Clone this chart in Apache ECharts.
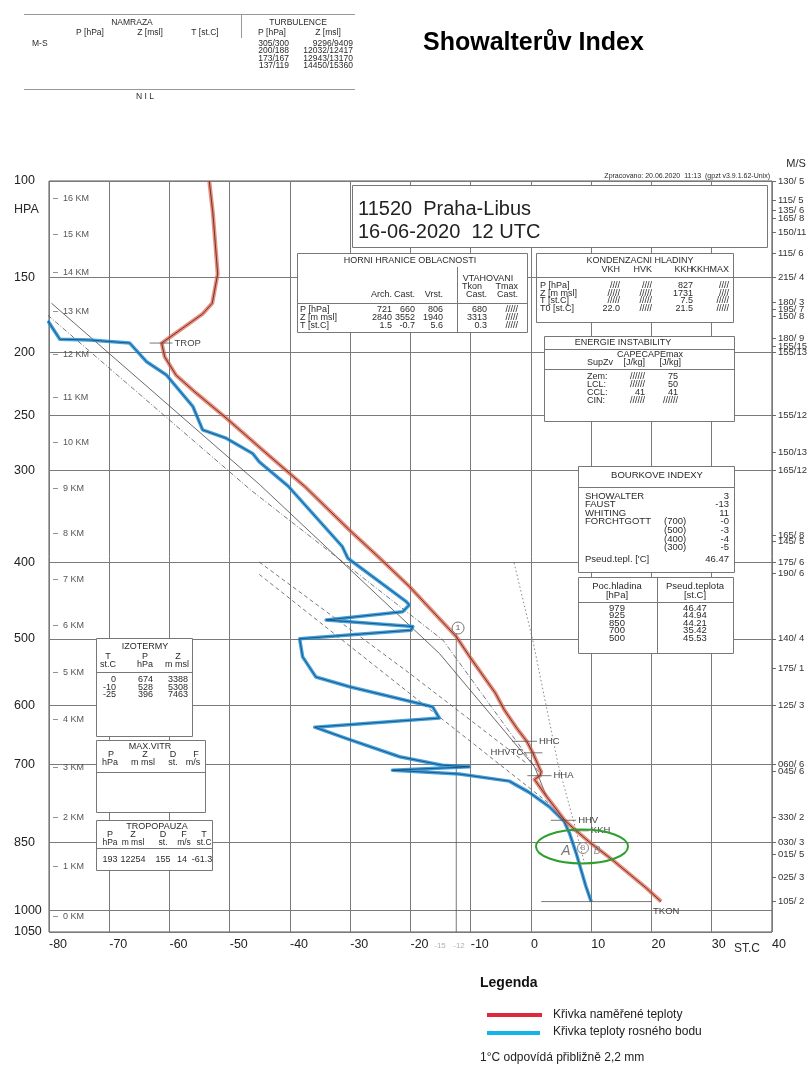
<!DOCTYPE html>
<html><head><meta charset="utf-8">
<script src="https://cdn.jsdelivr.net/npm/echarts@6/dist/echarts.min.js"></script>
<style>html,body{margin:0;padding:0;background:#fff}#c{width:810px;height:1066px}</style>
</head><body><div id="c"></div>
<script>
// ---------- DATA ----------
const KAPPA = 0.2857; // Stuve diagram: vertical coordinate is p^(R/cp)
const pressureTicks = [100,150,200,250,300,400,500,600,700,850,1000,1050];
const kmLabels   = ['0 KM','1 KM','2 KM','3 KM','4 KM','5 KM','6 KM','7 KM','8 KM','9 KM','10 KM','11 KM','12 KM','13 KM','14 KM','15 KM','16 KM'];
const kmPressure = [1013,901,800,707,623,549,481,421,367,318,274,235,201,171.5,147,126,108];
const windLabels   = ['130/ 5','115/ 5','135/ 6','165/ 8','150/11','115/ 6','215/ 4','180/ 3','195/ 7','150/ 8','180/ 9','155/15','155/13','155/12','150/13','165/12','165/ 8','145/ 5','175/ 6','190/ 6','140/ 4','175/ 1','125/ 3','060/ 6','045/ 6','330/ 2','030/ 3','015/ 5','025/ 3','105/ 2'];
const windPressure = [100,109,113.5,117.7,125,136.3,150,165.7,169.9,174.6,189.6,195.1,200,250,282.9,300,368.3,375.4,400,413.2,500,543.2,600,700,712.7,800.6,850,875,925,979];

// measured temperature (pressure hPa, T st.C)
const tempP = [100,115,148,166,173,193,203,217,231,252,281,303,316,363,396,430,497,528,581,608,640,660,674,680,707,714,721,728,760,806,827,850,887,948,979];
const tempT = [-53.4,-52.8,-52.0,-52.9,-54.5,-61.3,-60.8,-58.9,-55.6,-50.6,-44.5,-40.1,-37.6,-30.1,-25.0,-20.2,-12.4,-10.0,-5.9,-4.4,-2.2,-0.7,0.0,0.3,1.4,1.7,1.5,0.6,2.6,5.6,7.5,9.7,13.5,19.1,21.6];
// dew point
const dewP = [177.5,190.3,190.8,193,206.7,216.8,242.4,262.5,269.9,284,292,316,381.8,395.4,449.6,454,463,474,483,488,500,526,556,571,600,603,621,636,655,687,702,705,711,718,731,752,779,808,832,873,944,979];
const dewT = [-80.2,-78.2,-73.3,-66.6,-63.8,-60.5,-56.1,-54.5,-50.6,-46.2,-45.1,-40.3,-31.3,-30.4,-20.7,-20.2,-21.3,-34.0,-19.6,-19.9,-38.4,-37.9,-35.7,-30.1,-17.4,-16.3,-15.2,-35.9,-30.7,-21.8,-14.7,-10.2,-23.0,-11.9,-3.6,-0.3,3.0,5.5,6.4,7.5,9.1,10.0];
// construction curves
const parcelP = [166,314,521,705,760];
const parcelT = [-79.6,-45.1,-15.2,0.6,2.6];
const parcel2P = [169.4,320,502,716];
const parcel2T = [-81.5,-46.5,-14.6,1.4];
const adiab1P = [400,550,698];
const adiab1T = [-45.1,-20.2,-0.8];
const adiab2P = [415,619,773];
const adiab2T = [-45.1,-15.2,3.0];
const mixP = [401,502,700,827,900];
const mixT = [-2.8,0.3,4.5,7.5,9.0];
const showalterP = [492,1050];
const showalterT = [-12.4,-12.4];
// level markers
const markerNames = ['TROP','HHC','HHVTC','HHA','HHV','KKH','TKON'];
const markerP  = [193,660,680,721,806,827,979];
const markerT1 = [-63.3,-3.1,-1.1,-0.6,3.3,6.8,1.7];
const markerT2 = [-59.5,1.0,1.9,3.4,7.5,9.6,20.1];
const circleMarkP = [485];
const circleMarkT = [-12.1];

// tables
const turbP = ['305/300','200/188','173/167','137/119'];
const turbZ = ['9296/9409','12032/12417','12943/13170','14450/15360'];
const cloudRows = [['P [hPa]','721','660','806','680','/////'],['Z [m msl]','2840','3552','1940','3313','/////'],['T [st.C]','1.5','-0.7','5.6','0.3','/////']];
const condRows = [['P [hPa]','////','////','827','////'],['Z [m msl]','/////','/////','1731','////'],['T [st.C]','/////','/////','7.5','/////'],['T0 [st.C]','22.0','/////','21.5','/////']];
const energyRows = [['Zem:','//////','75'],['LCL:','//////','50'],['CCL:','41','41'],['CIN:','//////','//////']];
const stormRows = [['SHOWALTER','','3'],['FAUST','','-13'],['WHITING','','11'],['FORCHTGOTT','(700)','-0'],['','(500)','-3'],['','(400)','-4'],['','(300)','-5'],['Pseud.tepl. [\'C]','','46.47']];
const pseudoRows = [['979','46.47'],['925','44.94'],['850','44.21'],['700','35.42'],['500','45.53']];
const isoRows = [['0','674','3388'],['-10','528','5308'],['-25','396','7463']];
const tropoRow = ['193','12254','155','14','-61.3'];

// ---------- HELPERS ----------
const pk = p => Math.pow(p, KAPPA);
const pairs = (P,T) => P.map((p,i)=>[T[i], pk(p)]);
const FONT = '"Liberation Sans", Arial, Helvetica, sans-serif';
const INK = '#2a2a2a';
function lookup(vals, labels){ return v => { for(let i=0;i<vals.length;i++){ if(Math.abs(pk(vals[i])-v)<1e-6) return labels[i]; } return ''; }; }

const G = [];
function rect(x,y,w,h){G.push({type:'rect',z:100,silent:true,shape:{x:x+0.5,y:y+0.5,width:w,height:h},style:{fill:'#fff',stroke:'#777',lineWidth:1}});}
function hl(x1,x2,y,c){G.push({type:'line',z:101,silent:true,shape:{x1:x1,y1:y+0.5,x2:x2,y2:y+0.5},style:{stroke:c||'#888',lineWidth:1}});}
function vl(x,y1,y2,c){G.push({type:'line',z:101,silent:true,shape:{x1:x+0.5,y1:y1,x2:x+0.5,y2:y2},style:{stroke:c||'#888',lineWidth:1}});}
function tx(x,y,s,size,align,extra){G.push({type:'text',z:102,silent:true,x:x,y:y,style:Object.assign({text:s,fontSize:size||9,fontFamily:FONT,fill:INK,align:align||'left',verticalAlign:'middle'},extra||{})});}

// top header table
hl(24,355,14,'#999'); vl(241,14,38,'#999'); hl(24,355,89,'#999');
tx(132,23,'NAMRAZA',8.5,'center'); tx(90,33,'P [hPa]',8.5,'center'); tx(150,33,'Z [msl]',8.5,'center'); tx(205,33,'T [st.C]',8.5,'center');
tx(298,23,'TURBULENCE',8.5,'center'); tx(272,33,'P [hPa]',8.5,'center'); tx(328,33,'Z [msl]',8.5,'center');
tx(32,43.5,'M-S',8.5);
turbP.forEach((s,i)=>{tx(289,43.5+i*7.5,s,8.5,'right'); tx(353,43.5+i*7.5,turbZ[i],8.5,'right');});
tx(145,97,'N I L',8.5,'center');

tx(770,176,'Zpracovano: 20.06.2020  11:13  (gpzt v3.9.1.62-Unix)',7,'right');
tx(796,164,'M/S',11,'center');
tx(14,210,'HPA',12.5,'left');
tx(734,949,'ST.C',12,'left');
tx(440,946,'-15',8,'center',{fill:'#b0b0b0'});
tx(459,946,'-12',8,'center',{fill:'#b0b0b0'});

// station box
rect(352,185,415,62);
tx(358,209,'11520  Praha-Libus',20,'left',{fill:'#222'});
tx(358,232,'16-06-2020  12 UTC',20,'left',{fill:'#222'});

// HORNI HRANICE OBLACNOSTI
rect(297,253,230,79);
tx(410,261,'HORNI HRANICE OBLACNOSTI',9,'center');
vl(457,267,332,'#777'); hl(297,527,303,'#777');
tx(488,279,'VTAHOVANI',9,'center');
tx(482,287,'Tkon',9,'right'); tx(518,287,'Tmax',9,'right');
const cloudCols=[392,415,443,487,518];
['Arch.','Cast.','Vrst.','Cast.','Cast.'].forEach((s,i)=>tx(cloudCols[i],294.5,s,9,'right'));
cloudRows.forEach((r,j)=>{tx(300,310+j*7.7,r[0],9); for(let i=1;i<r.length;i++) tx(cloudCols[i-1],310+j*7.7,r[i],9,'right');});

// KONDENZACNI HLADINY
rect(536,253,197,69);
tx(640,261,'KONDENZACNI HLADINY',9,'center');
const condCols=[620,652,693,729];
['VKH','HVK','KKH','KKHMAX'].forEach((s,i)=>tx(condCols[i],270,s,9,'right'));
hl(536,733,277,'#777');
condRows.forEach((r,j)=>{tx(540,286+j*7.5,r[0],9); for(let i=1;i<r.length;i++) tx(condCols[i-1],286+j*7.5,r[i],9,'right');});

// ENERGIE INSTABILITY
rect(544,336,190,85);
tx(623,343,'ENERGIE INSTABILITY',9,'center');
hl(544,734,349,'#777');
tx(650,354.5,'CAPECAPEmax',9,'center');
tx(587,363,'SupZv',9); tx(645,363,'[J/kg]',9,'right'); tx(681,363,'[J/kg]',9,'right');
hl(544,734,369,'#777');
energyRows.forEach((r,j)=>{const y=377+j*7.8; tx(587,y,r[0],9); tx(645,y,r[1],9,'right'); tx(678,y,r[2],9,'right');});

// BOURKOVE INDEXY
rect(578,466,156,106);
tx(657,475,'BOURKOVE INDEXY',9.5,'center');
hl(578,734,487,'#777');
const stormY=[496,504.5,513,521.5,530.5,539,547.5,559];
stormRows.forEach((r,j)=>{tx(585,stormY[j],r[0],9.5); if(r[1]) tx(664,stormY[j],r[1],9.5); tx(729,stormY[j],r[2],9.5,'right');});

// Poc.hladina / Pseud.teplota
rect(578,577,155,76);
vl(657,577,653,'#777');
tx(617,586,'Poc.hladina',9.5,'center'); tx(617,595,'[hPa]',9.5,'center');
tx(695,586,'Pseud.teplota',9.5,'center'); tx(695,595,'[st.C]',9.5,'center');
hl(578,733,602,'#777');
pseudoRows.forEach((r,j)=>{const y=608+j*7.6; tx(617,y,r[0],9.5,'center'); tx(695,y,r[1],9.5,'center');});

// IZOTERMY
rect(96,638,96,98);
tx(145,647,'IZOTERMY',9,'center');
tx(108,656.5,'T',9,'center'); tx(145,656.5,'P',9,'center'); tx(178,656.5,'Z',9,'center');
tx(108,664.5,'st.C',9,'center'); tx(145,664.5,'hPa',9,'center'); tx(177,664.5,'m msl',9,'center');
hl(96,192,672,'#777');
isoRows.forEach((r,j)=>{const y=680+j*7.5; tx(116,y,r[0],9,'right'); tx(153,y,r[1],9,'right'); tx(188,y,r[2],9,'right');});

// MAX.VITR
rect(96,740,109,72);
tx(150,747,'MAX.VITR',9,'center');
[['P',111],['Z',145],['D',173],['F',196]].forEach(a=>tx(a[1],755,a[0],9,'center'));
[['hPa',110],['m msl',143],['st.',173],['m/s',193]].forEach(a=>tx(a[1],763,a[0],9,'center'));
hl(96,205,772,'#777');

// TROPOPAUZA
rect(96,820,116,50);
tx(157,827,'TROPOPAUZA',9,'center');
[['P',110],['Z',133],['D',163],['F',184],['T',204]].forEach(a=>tx(a[1],835,a[0],9,'center'));
[['hPa',110],['m msl',133],['st.',163],['m/s',184],['st.C',204]].forEach(a=>tx(a[1],843,a[0],8.5,'center'));
hl(96,212,848,'#777');
const tropoX=[110,133,163,182,202];
tropoRow.forEach((s,i)=>tx(tropoX[i],860,s,9,'center'));

// green annotation ellipse + handwriting
G.push({type:'ellipse',z:103,silent:true,shape:{cx:582,cy:846.5,rx:46,ry:17},style:{fill:'none',stroke:'#2e9e2e',lineWidth:2}});
tx(566,851,'A',14,'center',{fill:'#777',fontStyle:'italic'});
G.push({type:'circle',z:103,silent:true,shape:{cx:583,cy:848,r:5.5},style:{fill:'none',stroke:'#888',lineWidth:1}});
tx(583,848,'B',7,'center',{fill:'#888'});
tx(597,851,'B',10,'center',{fill:'#888',fontStyle:'italic'});

// legend
tx(480,983,'Legenda',14,'left',{fontWeight:'bold',fill:'#111'});
G.push({type:'line',z:101,silent:true,shape:{x1:487,y1:1015,x2:542,y2:1015},style:{stroke:'#e0283c',lineWidth:4}});
tx(553,1015,'Křivka naměřené teploty',12,'left',{fill:'#222'});
G.push({type:'line',z:101,silent:true,shape:{x1:487,y1:1033,x2:540,y2:1033},style:{stroke:'#16b2ea',lineWidth:4}});
tx(553,1032,'Křivka teploty rosného bodu',12,'left',{fill:'#222'});
tx(480,1058,'1°C odpovídá přibližně 2,2 mm',12,'left',{fill:'#222'});

// ---------- CHART ----------
const yMin = pk(100), yMax = pk(1050);
const baseY = {type:'value', inverse:true, min:yMin, max:yMax, gridIndex:0};
const lineSeries = (name,data,style,z) => ({name, type:'line', data, symbol:'none', clip:false, silent:true, z:z||3, lineStyle:style});

const markerStyle = {TROP:'right',HHC:'right',HHVTC:'left',HHA:'right',HHV:'right',KKH:'right',TKON:'below'};

const option = {
  animation:false,
  backgroundColor:'#fff',
  title:{text:'Showalterův Index', left:423, top:31, padding:0, textStyle:{fontSize:25, fontWeight:'bold', color:'#000', fontFamily:FONT}},
  grid:{left:49, right:36, top:181, bottom:134, show:true, borderColor:'#555', borderWidth:1, backgroundColor:'transparent'},
  xAxis:{type:'value', min:-80, max:40, interval:10,
    axisLine:{show:false}, axisTick:{show:false},
    axisLabel:{align:'left', margin:6, fontSize:12.5, color:'#222', fontFamily:FONT},
    splitLine:{show:true, lineStyle:{color:'#7a7a7a', width:1}}},
  yAxis:[
    Object.assign({}, baseY, {position:'left',
      axisLine:{show:false},
      axisTick:{show:false, customValues:pressureTicks.map(pk)},
      axisLabel:{customValues:pressureTicks.map(pk), formatter:lookup(pressureTicks, pressureTicks.map(String)), align:'left', margin:35, fontSize:12.5, color:'#222', fontFamily:FONT},
      splitLine:{show:true, lineStyle:{color:'#7a7a7a', width:1}}}),
    Object.assign({}, baseY, {position:'left',
      axisLine:{show:false}, splitLine:{show:false},
      axisTick:{show:false, customValues:kmPressure.map(pk)},
      axisLabel:{inside:true, customValues:kmPressure.map(pk), formatter:lookup(kmPressure, kmLabels.map(s=>'–  '+s)), margin:4, fontSize:9, color:'#555', fontFamily:FONT}}),
    Object.assign({}, baseY, {position:'right',
      axisLine:{show:false}, splitLine:{show:false},
      axisTick:{show:true, length:4, customValues:windPressure.map(pk), lineStyle:{color:'#666'}},
      axisLabel:{customValues:windPressure.map(pk), formatter:lookup(windPressure, windLabels), margin:6, fontSize:9.5, color:'#333', fontFamily:FONT}})
  ],
  series:[
    lineSeries('adiab1', pairs(adiab1P,adiab1T), {color:'#555', width:0.8, type:[4,3]}),
    lineSeries('adiab2', pairs(adiab2P,adiab2T), {color:'#555', width:0.8, type:[4,3]}),
    lineSeries('parcel', pairs(parcelP,parcelT), {color:'#444', width:0.8}),
    lineSeries('parcel2', pairs(parcel2P,parcel2T), {color:'#555', width:0.8, type:[5,2,1,2]}),
    lineSeries('mix', pairs(mixP,mixT), {color:'#666', width:0.8, type:[1.5,2.5]}),
    lineSeries('showalter', pairs(showalterP,showalterT), {color:'#555', width:0.8}),
    lineSeries('dewBand', pairs(dewP,dewT), {color:'rgba(30,145,220,0.85)', width:3.5, join:'round'}, 5),
    lineSeries('dewLine', pairs(dewP,dewT), {color:'#163550', width:0.7}, 6),
    lineSeries('tempBand', pairs(tempP,tempT), {color:'rgba(232,96,72,0.72)', width:4, join:'round'}, 5),
    lineSeries('tempLine', pairs(tempP,tempT), {color:'#3a2520', width:0.8}, 6),
    {type:'custom', name:'markers', clip:false, silent:true, z:7,
      data: markerP.map((p,i)=>[markerT1[i], markerT2[i], pk(p)]),
      encode:{x:[0,1], y:2},
      renderItem:(params, api)=>{
        const i = params.dataIndex, y = api.value(2);
        const a = api.coord([api.value(0), y]), b = api.coord([api.value(1), y]);
        const name = markerNames[i], side = markerStyle[name];
        let tx_, ty_, al;
        if(side==='left'){tx_=a[0]-1; ty_=a[1]; al='right';}
        else if(side==='below'){tx_=b[0]+1; ty_=a[1]+10; al='left';}
        else {tx_=b[0]+2; ty_=b[1]; al='left';}
        return {type:'group', children:[
          {type:'line', shape:{x1:a[0],y1:a[1],x2:b[0],y2:b[1]}, style:{stroke:'#555', lineWidth:0.8}},
          {type:'text', x:tx_, y:ty_, style:{text:name, fill:'#444', fontSize:9.5, fontFamily:FONT, align:al, verticalAlign:'middle'}}
        ]};
      }},
    {type:'custom', name:'circleMark', clip:false, silent:true, z:7,
      data: circleMarkP.map((p,i)=>[circleMarkT[i], pk(p)]),
      encode:{x:0, y:1},
      renderItem:(params, api)=>{
        const c = api.coord([api.value(0), api.value(1)]);
        return {type:'group', children:[
          {type:'circle', shape:{cx:c[0], cy:c[1], r:6}, style:{fill:'#fff', stroke:'#666', lineWidth:0.9}},
          {type:'text', x:c[0], y:c[1], style:{text:'1', fill:'#555', fontSize:8, fontFamily:FONT, align:'center', verticalAlign:'middle'}}
        ]};
      }}
  ],
  graphic: G
};

const chart = echarts.init(document.getElementById('c'), null, {renderer:'canvas'});
chart.setOption(option);
</script></body></html>
